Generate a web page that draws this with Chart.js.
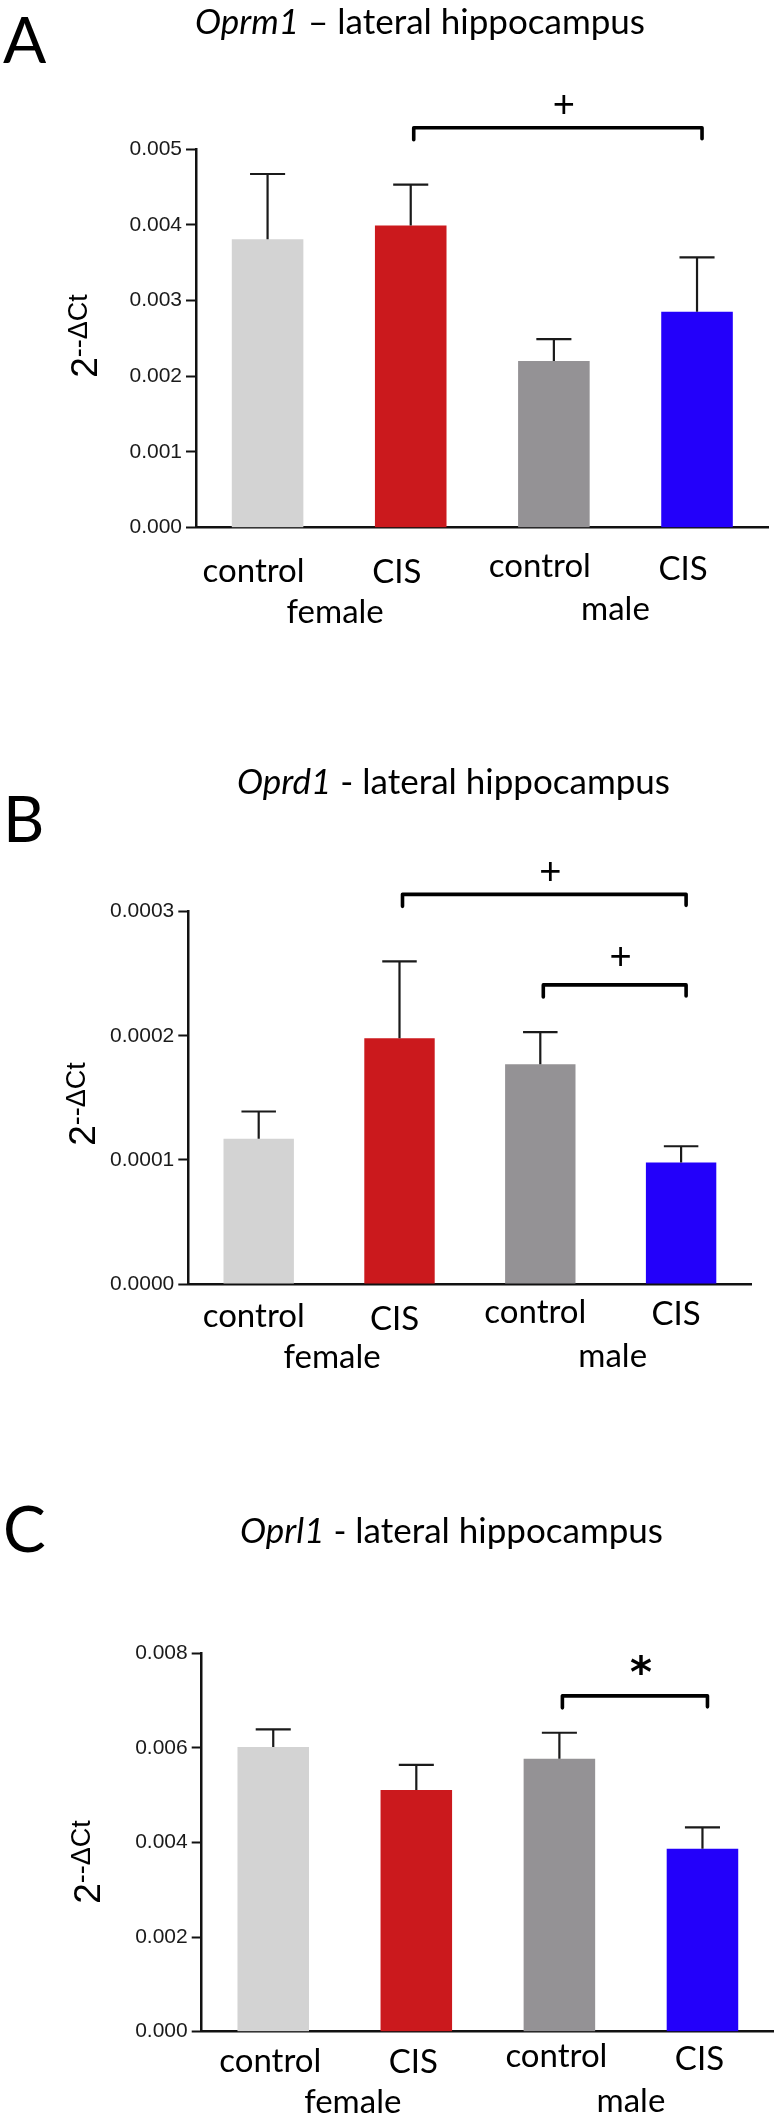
<!DOCTYPE html>
<html>
<head>
<meta charset="utf-8">
<script src="https://cdn.jsdelivr.net/npm/chart.js@4.4.0/dist/chart.umd.min.js"></script>
<style>
html,body{margin:0;padding:0;background:#fff;}
#wrap{position:relative;width:774px;height:2116px;overflow:hidden;}
canvas{position:absolute;left:0;}
</style>
</head>
<body>
<div id="wrap">
<canvas id="cA" width="774" height="700" style="top:0px"></canvas>
<canvas id="cB" width="774" height="700" style="top:700px"></canvas>
<canvas id="cC" width="774" height="716" style="top:1400px"></canvas>
</div>
<script>
// ---------------- data ----------------
const categories = ['control', 'CIS', 'control', 'CIS'];
const groups = ['female', 'male'];
const barColors = ['#d3d3d3', '#cb191d', '#949295', '#2300fa'];

const oprm1Mean = [0.00381, 0.00399, 0.00220, 0.00285];
const oprm1Sem  = [0.00086, 0.00054, 0.00029, 0.00072];
const oprm1Ticks = ['0.000', '0.001', '0.002', '0.003', '0.004', '0.005'];
const oprm1Brackets = [{ from: 1, to: 3, level: 0.00528, mark: '+' }];

const oprd1Mean = [0.000117, 0.000198, 0.000177, 0.000098];
const oprd1Sem  = [0.000022, 0.000062, 0.000026, 0.000013];
const oprd1Ticks = ['0.0000', '0.0001', '0.0002', '0.0003'];
const oprd1Brackets = [
  { from: 1, to: 3, level: 0.000314, mark: '+' },
  { from: 2, to: 3, level: 0.000241, mark: '+' }
];

const oprl1Mean = [0.00602, 0.00511, 0.00577, 0.00387];
const oprl1Sem  = [0.00037, 0.00053, 0.00055, 0.00045];
const oprl1Ticks = ['0.000', '0.002', '0.004', '0.006', '0.008'];
const oprl1Brackets = [{ from: 2, to: 3, level: 0.0071, mark: '*' }];

// ---------------- layout (page coordinates) ----------------
const PANELS = [
  { id: 'cA', top: 0, h: 700, left: 196, right: 768.6, plotTop: 149, plotBottom: 527.7,
    max: 0.005, step: 0.001, mean: oprm1Mean, sem: oprm1Sem, ticks: oprm1Ticks, brackets: oprm1Brackets,
    letter: 'A', letterX: 3, letterBase: 63,
    gene: 'Oprm1', rest: ' \u2013 lateral hippocampus', titleX: 195, titleBase: 34,
    yTitleX: 97, yTitleCY: 336,
    labelDx: -14, row1Base: [582, 583, 577, 580], row2Base: [623, 620], groupDx: [-4, -10],
    markGap: [24] },
  { id: 'cB', top: 700, h: 700, left: 188.3, right: 751.5, plotTop: 911.7, plotBottom: 1284,
    max: 0.0003, step: 0.0001, mean: oprd1Mean, sem: oprd1Sem, ticks: oprd1Ticks, brackets: oprd1Brackets,
    letter: 'B', letterX: 3, letterBase: 842,
    gene: 'Oprd1', rest: ' - lateral hippocampus', titleX: 237, titleBase: 794,
    yTitleX: 95, yTitleCY: 1104,
    labelDx: -5, row1Base: [1326.7, 1330, 1323.3, 1325], row2Base: [1368.3, 1366.7], groupDx: [3, 2],
    markGap: [23, 29] },
  { id: 'cC', top: 1400, h: 716, left: 201.7, right: 774, plotTop: 1653.3, plotBottom: 2031.7,
    max: 0.008, step: 0.002, mean: oprl1Mean, sem: oprl1Sem, ticks: oprl1Ticks, brackets: oprl1Brackets,
    letter: 'C', letterX: 3, letterBase: 1552,
    gene: 'Oprl1', rest: ' - lateral hippocampus', titleX: 240, titleBase: 1543,
    yTitleX: 100, yTitleCY: 1862,
    labelDx: -3, row1Base: [2071.7, 2073, 2066.7, 2070], row2Base: [2113, 2112], groupDx: [8, 0],
    markGap: [31] }
];

const HUMANIST = 'Lato, "Open Sans", sans-serif';
const ARIAL = '"Liberation Sans", Arial, sans-serif';

function makeAnnot(P) {
  const ly = v => v - P.top;
  return {
    id: 'annot' + P.id,
    afterDatasetsDraw(chart) {
      const ctx = chart.ctx, ys = chart.scales.y;
      const meta = chart.getDatasetMeta(0);
      ctx.save();
      ctx.strokeStyle = '#1a1a1a';
      ctx.lineWidth = 2.2;
      ctx.lineCap = 'butt';
      P.mean.forEach((m, i) => {
        const bar = meta.data[i];
        const x = bar.x;
        const y0 = ys.getPixelForValue(m);
        const y1 = ys.getPixelForValue(m + P.sem[i]);
        const half = bar.width * 0.245;
        ctx.beginPath();
        ctx.moveTo(x, y0); ctx.lineTo(x, y1);
        ctx.moveTo(x - half, y1); ctx.lineTo(x + half, y1);
        ctx.stroke();
      });
      ctx.restore();
    },
    afterDraw(chart) {
      const ctx = chart.ctx, ys = chart.scales.y;
      const meta = chart.getDatasetMeta(0);
      const cx = i => meta.data[i].x;
      ctx.save();
      ctx.fillStyle = '#000';
      ctx.textBaseline = 'alphabetic';

      // panel letter
      ctx.font = '64px ' + HUMANIST;
      ctx.textAlign = 'left';
      ctx.fillText(P.letter, P.letterX, ly(P.letterBase));

      // title
      ctx.font = 'italic 35px ' + HUMANIST;
      const gw = ctx.measureText(P.gene).width;
      ctx.fillText(P.gene, P.titleX, ly(P.titleBase));
      ctx.font = '35px ' + HUMANIST;
      ctx.fillText(P.rest, P.titleX + gw, ly(P.titleBase));

      // y axis title 2^(--ΔCt), rotated
      ctx.save();
      ctx.translate(P.yTitleX, ly(P.yTitleCY));
      ctx.rotate(-Math.PI / 2);
      ctx.font = '37px ' + ARIAL;
      const w2 = ctx.measureText('2').width;
      ctx.font = '27px ' + ARIAL;
      const wsup = ctx.measureText('--\u0394Ct').width;
      const start = -(w2 + wsup) / 2;
      ctx.font = '37px ' + ARIAL;
      ctx.fillText('2', start, 0);
      ctx.font = '27px ' + ARIAL;
      ctx.fillText('--\u0394Ct', start + w2, -10);
      ctx.restore();

      // category labels
      ctx.font = '33px ' + HUMANIST;
      ctx.textAlign = 'center';
      categories.forEach((c, i) => {
        ctx.fillText(c, cx(i) + P.labelDx, ly(P.row1Base[i]));
      });
      groups.forEach((g, k) => {
        const mid = (cx(2 * k) + cx(2 * k + 1)) / 2;
        ctx.fillText(g, mid + P.groupDx[k], ly(P.row2Base[k]));
      });

      // significance brackets
      ctx.strokeStyle = '#000';
      ctx.lineWidth = 3.6;
      ctx.lineJoin = 'round';
      ctx.lineCap = 'round';
      P.brackets.forEach((b, k) => {
        const xa = cx(b.from) + 3, xb = cx(b.to) + 5;
        const y = ys.getPixelForValue(b.level);
        ctx.beginPath();
        ctx.moveTo(xa, y + 12); ctx.lineTo(xa, y); ctx.lineTo(xb, y); ctx.lineTo(xb, y + 11);
        ctx.stroke();
        const mx = (xa + xb) / 2 + 6;
        const my = y - P.markGap[k];
        if (b.mark === '*') ctx.font = 'bold 42px "DejaVu Sans", sans-serif';
        else ctx.font = '38px ' + ARIAL;
        const m = ctx.measureText(b.mark);
        const asc = m.actualBoundingBoxAscent, desc = m.actualBoundingBoxDescent;
        ctx.textAlign = 'center';
        ctx.fillText(b.mark, mx, my + (asc - desc) / 2);
      });
      ctx.restore();
    }
  };
}

PANELS.forEach(P => {
  const el = document.getElementById(P.id);
  new Chart(el.getContext('2d'), {
    type: 'bar',
    data: {
      labels: categories,
      datasets: [{
        data: P.mean,
        backgroundColor: barColors,
        borderWidth: 0,
        barPercentage: 0.5,
        categoryPercentage: 1
      }]
    },
    options: {
      responsive: false,
      animation: false,
      devicePixelRatio: 1,
      layout: {
        padding: {
          left: 0,
          right: 774 - P.right,
          top: P.plotTop - P.top,
          bottom: P.top + P.h - P.plotBottom
        }
      },
      plugins: { legend: { display: false }, tooltip: { enabled: false } },
      scales: {
        x: {
          grid: { display: false, drawTicks: false },
          ticks: { display: false },
          border: { display: true, color: '#111', width: 2.5 },
          afterFit(s) { s.height = 0; }
        },
        y: {
          min: 0,
          max: P.max,
          ticks: {
            stepSize: P.step,
            callback: (v, i) => P.ticks[i],
            font: { family: '"Liberation Sans", Arial, sans-serif', size: 21 },
            color: '#1a1a1a',
            padding: 4
          },
          grid: { drawOnChartArea: false, drawTicks: true, tickLength: 10, tickWidth: 2, tickColor: '#111' },
          border: { display: true, color: '#111', width: 2.5 },
          afterFit(s) { s.width = P.left; }
        }
      }
    },
    plugins: [makeAnnot(P)]
  });
});
</script>
</body>
</html>
